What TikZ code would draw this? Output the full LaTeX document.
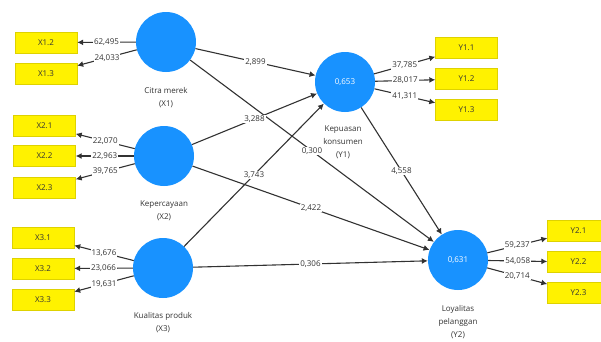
\documentclass[tikz,border=0pt]{standalone}
\usepackage{fontspec}
\setmainfont{Open Sans}
\usetikzlibrary{arrows.meta,positioning}
\definecolor{lvblue}{RGB}{24,146,255}
\definecolor{indline}{RGB}{222,210,0}
\definecolor{pathgray}{RGB}{50,50,50}
\tikzset{
  lv/.style={circle,fill=lvblue,minimum size=60pt,inner sep=0pt,text=white},
  ind/.style={draw=indline,fill=yellow,minimum width=62pt,minimum height=21pt,inner sep=0pt,text=black!80},
  lvname/.style={align=center,inner sep=0pt,text=black!80},
  coef/.style={fill=white,inner sep=1pt,midway,text=black!80},
  arr/.style={pathgray,line width=1.1pt,-{Latex[length=6pt,width=6pt]}}
}
\begin{document}
\begin{tikzpicture}[x=1pt,y=-1pt,font=\fontsize{8}{13}\selectfont]
  \useasboundingbox (0,0) rectangle (601,341);
  % latent variables
  \node[lv] (x1) at (166,42) {};
  \node[lv] (x2) at (164,156) {};
  \node[lv] (x3) at (163,268) {};
  \node[lv] (y1) at (345,82) {0,653};
  \node[lv] (y2) at (458,260) {0,631};
  \node[lvname,below=15pt of x1] (nx1) {Citra merek\\(X1)};
  \node[lvname,below=14pt of x2] (nx2) {Kepercayaan\\(X2)};
  \node[lvname,below=14pt of x3] (nx3) {Kualitas produk\\(X3)};
  \node[lvname,below=13pt of y1,xshift=-2pt] (ny1) {Kepuasan\\konsumen\\(Y1)};
  \node[lvname,below=15pt of y2] (ny2) {Loyalitas\\pelanggan\\(Y2)};
  % indicators
  \foreach \n/\t/\x/\y in {x12/X1.2/46/42.5, x13/X1.3/46/74,
      x21/X2.1/44.5/126, x22/X2.2/44.5/156, x23/X2.3/44.5/187.5,
      x31/X3.1/43/237.5, x32/X3.2/43/268.5, x33/X3.3/43/300,
      y11/Y1.1/466.5/48, y12/Y1.2/466.5/79, y13/Y1.3/466.5/110,
      y21/Y2.1/578.5/230.5, y22/Y2.2/578.5/262, y23/Y2.3/578.5/292.5}
    \node[ind] (\n) at (\x,\y) {\t};
  % outer loadings
  \foreach \s/\t/\v in {x1/x12/{62,495}, x1/x13/{24,033},
      x2/x21/{22,070}, x2/x22/{22,963}, x2/x23/{39,765},
      x3/x31/{13,676}, x3/x32/{23,066}, x3/x33/{19,631},
      y1/y11/{37,785}, y1/y12/{28,017}, y1/y13/{41,311},
      y2/y21/{59,237}, y2/y22/{54,058}, y2/y23/{20,714}}
    \draw[arr] (\s) -- node[coef] {\v} (\t);
  % inner model
  \foreach \s/\t/\v in {x1/y1/{2,899}, x1/y2/{0,300},
      x2/y1/{3,288}, x2/y2/{2,422},
      x3/y1/{3,743}, x3/y2/{0,306}, y1/y2/{4,558}}
    \draw[arr] (\s) -- node[coef] {\v} (\t);
\end{tikzpicture}
\end{document}
